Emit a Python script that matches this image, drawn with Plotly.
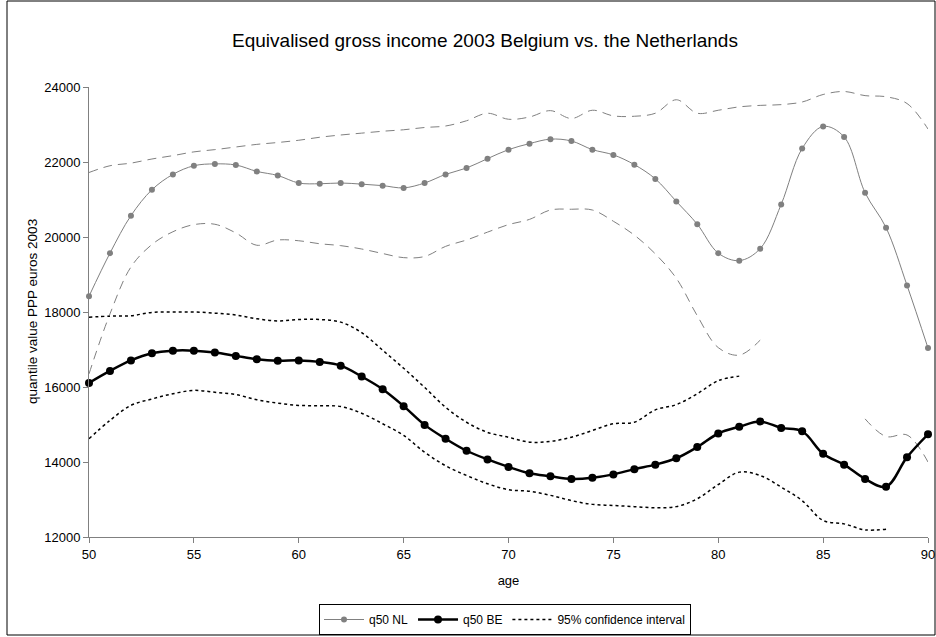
import plotly.graph_objects as go

ages = list(range(50, 91))

# Median equivalised gross income, the Netherlands
q50_nl = [18420, 19570, 20570, 21260, 21670, 21900, 21950, 21920, 21750, 21640,
          21440, 21420, 21440, 21410, 21370, 21310, 21440, 21670, 21840, 22090,
          22330, 22490, 22610, 22560, 22330, 22190, 21930, 21550, 20950, 20340,
          19570, 19370, 19690, 20870, 22360, 22950, 22670, 21180, 20250, 18710,
          17040]

# Dashed bounds around the NL median
nl_upper = [21720, 21900, 21970, 22080, 22170, 22270, 22330, 22400, 22470, 22520,
            22580, 22660, 22720, 22770, 22820, 22860, 22920, 22960, 23100, 23300,
            23140, 23200, 23370, 23160, 23380, 23230, 23220, 23300, 23660, 23300,
            23380, 23470, 23510, 23530, 23600, 23800, 23880, 23770, 23740, 23560,
            22880]
nl_lower = [16350, 17950, 19200, 19800, 20140, 20330, 20340, 20110, 19780, 19920,
            19900, 19820, 19770, 19680, 19560, 19450, 19480, 19750, 19920, 20130,
            20330, 20470, 20720, 20740, 20720, 20420, 20050, 19550, 18900, 17900,
            17050, 16850, 17250, None, None, None, None, 15150, 14680, 14720,
            14000]

# Median equivalised gross income, Belgium
q50_be = [16110, 16430, 16710, 16900, 16970, 16970, 16920, 16830, 16740, 16700,
          16710, 16670, 16570, 16280, 15940, 15490, 14990, 14620, 14300, 14070,
          13870, 13700, 13620, 13550, 13580, 13670, 13810, 13930, 14100, 14400,
          14760, 14940, 15080, 14910, 14820, 14220, 13930, 13550, 13340, 14130,
          14740]

# 95% confidence interval for the BE median
be_upper = [17860, 17890, 17900, 17990, 18000, 18000, 17970, 17920, 17820, 17760,
            17800, 17800, 17730, 17450, 16980, 16500, 15990, 15460, 15060, 14790,
            14660, 14530, 14550, 14660, 14840, 15020, 15060, 15390, 15530, 15820,
            16170, 16290, None, None, None, None, None, None, None, None,
            None]
be_lower = [14620, 15110, 15510, 15680, 15820, 15910, 15860, 15800, 15660, 15570,
            15510, 15500, 15480, 15300, 15020, 14710, 14260, 13900, 13640, 13420,
            13260, 13220, 13110, 12970, 12870, 12840, 12810, 12780, 12810, 13020,
            13400, 13730, 13640, 13330, 12970, 12440, 12350, 12190, 12210, None,
            None]

x_ticks = [50, 55, 60, 65, 70, 75, 80, 85, 90]
y_ticks = [12000, 14000, 16000, 18000, 20000, 22000, 24000]

FONT = "Arial, 'Liberation Sans', sans-serif"
GREY = "#808080"

W, H = 936, 637
L, R, T, B = 89, 8, 87, 100
PW, PH = W - L - R, H - T - B

fig = go.Figure()

for vals in (nl_upper, nl_lower):
    fig.add_trace(go.Scatter(
        x=ages, y=vals, mode="lines", showlegend=False, hoverinfo="skip",
        line=dict(color=GREY, width=1, dash="9px,6px", shape="spline"),
        connectgaps=False, cliponaxis=False))

fig.add_trace(go.Scatter(
    x=ages, y=q50_nl, mode="lines+markers", name="q50 NL",
    line=dict(color=GREY, width=1, shape="spline"),
    marker=dict(color=GREY, size=6), cliponaxis=False))

fig.add_trace(go.Scatter(
    x=ages, y=q50_be, mode="lines+markers", name="q50 BE",
    line=dict(color="black", width=2.5, shape="spline"),
    marker=dict(color="black", size=8), cliponaxis=False))

for i, vals in enumerate((be_upper, be_lower)):
    fig.add_trace(go.Scatter(
        x=ages, y=vals, mode="lines", name="95% confidence interval",
        legendgroup="ci", showlegend=(i == 0),
        line=dict(color="black", width=1.5, dash="dot", shape="spline"),
        connectgaps=False, cliponaxis=False))

fig.update_layout(
    width=W, height=H,
    margin=dict(l=L, r=R, t=T, b=B, autoexpand=False),
    paper_bgcolor="white", plot_bgcolor="white",
    font=dict(family=FONT, size=13, color="black"),
    title=dict(text="Equivalised gross income 2003 Belgium vs. the Netherlands",
               x=485 / W, xref="container", xanchor="center",
               y=1 - 40 / H, yref="container", yanchor="middle",
               font=dict(size=19, family=FONT, color="black")),
    xaxis=dict(range=[50, 90], tickvals=x_ticks, ticks="outside", ticklen=5,
               tickcolor=GREY, showline=True, linecolor=GREY, linewidth=1,
               showgrid=False, zeroline=False, tickfont=dict(size=13),
               ticklabeloverflow="allow", automargin=False,
               title=dict(text="age", font=dict(size=13), standoff=15)),
    yaxis=dict(range=[12000, 24000], tickvals=y_ticks,
               ticktext=[str(v) for v in y_ticks], ticks="outside", ticklen=5,
               tickcolor=GREY, showline=True, linecolor=GREY, linewidth=1,
               showgrid=False, zeroline=False, tickfont=dict(size=13),
               automargin=False),
    legend=dict(orientation="h", x=(505 - L) / PW, xanchor="center",
                y=(H - B - 604) / PH, yanchor="top", bordercolor="black",
                borderwidth=1, bgcolor="white", font=dict(size=12),
                itemwidth=40, tracegroupgap=0),
    annotations=[dict(text="quantile value PPP euros 2003", textangle=-90,
                      x=(32 - L) / PW, xref="paper", y=0.5, yref="paper",
                      xanchor="center", yanchor="middle", showarrow=False,
                      font=dict(size=13.5))],
    shapes=[dict(type="rect", xref="paper", yref="paper",
                 x0=(7 - L) / PW, x1=(935 - L) / PW,
                 y0=(H - B - 635) / PH, y1=(H - B - 1) / PH,
                 line=dict(color="black", width=1), fillcolor="rgba(0,0,0,0)",
                 layer="below")],
)

fig.write_html("out.html")
